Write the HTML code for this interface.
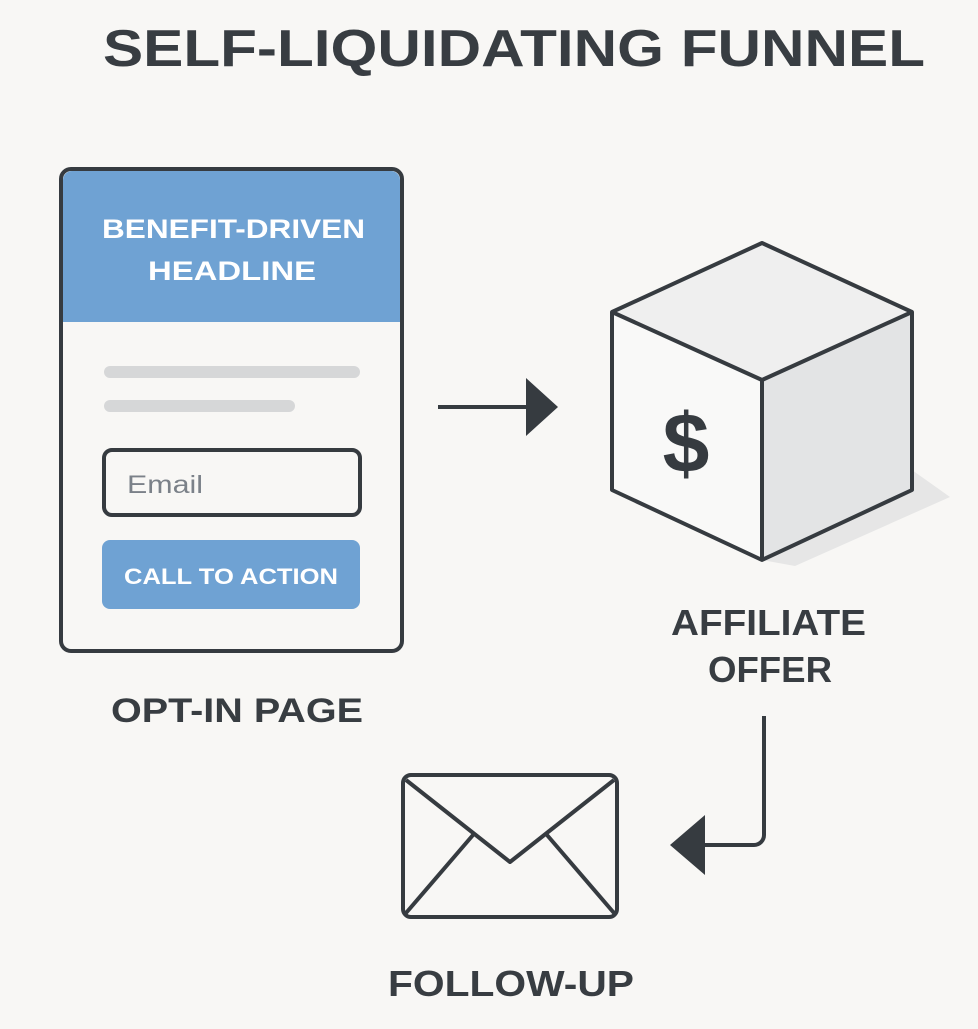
<!DOCTYPE html>
<html><head><style>
body{margin:0;background:#f8f7f5;}
svg text{font-family:"Liberation Sans",sans-serif;font-weight:bold;}
</style></head><body>
<svg width="978" height="1024" viewBox="0 0 978 1024" xmlns="http://www.w3.org/2000/svg">
<rect width="978" height="1024" fill="#f8f7f5"/>
<text x="103" y="66" font-size="52" fill="#383d42" textLength="822" lengthAdjust="spacingAndGlyphs">SELF-LIQUIDATING FUNNEL</text>
<!-- card -->
<rect x="61" y="169" width="341" height="482" rx="10" fill="#f8f7f5" stroke="#363b40" stroke-width="4"/>
<path d="M63 322 V180 a9 9 0 0 1 9 -9 H391 a9 9 0 0 1 9 9 V322 Z" fill="#6fa2d3"/>
<text x="102" y="238" font-size="27" fill="#fff" textLength="263" lengthAdjust="spacingAndGlyphs">BENEFIT-DRIVEN</text>
<text x="148" y="280" font-size="27" fill="#fff" textLength="168" lengthAdjust="spacingAndGlyphs">HEADLINE</text>
<rect x="104" y="366" width="256" height="12" rx="6" fill="#d6d7d8"/>
<rect x="104" y="400" width="191" height="12" rx="6" fill="#d6d7d8"/>
<rect x="104" y="450" width="256" height="65" rx="8" fill="#f8f7f5" stroke="#363b40" stroke-width="4"/>
<text x="127" y="493" font-size="25" fill="#7b8189" style="font-weight:normal" textLength="76" lengthAdjust="spacingAndGlyphs">Email</text>
<rect x="102" y="540" width="258" height="69" rx="8" fill="#6fa2d3"/>
<text x="124" y="584" font-size="22" fill="#fff" textLength="214" lengthAdjust="spacingAndGlyphs">CALL TO ACTION</text>
<text x="111" y="722" font-size="34" fill="#383d42" textLength="252" lengthAdjust="spacingAndGlyphs">OPT-IN PAGE</text>
<!-- arrow right -->
<line x1="438" y1="407" x2="530" y2="407" stroke="#363b40" stroke-width="4"/>
<polygon points="526,378 558,407 526,436" fill="#363b40"/>
<!-- cube -->
<polygon points="912,470 950,497 795,566 762,560" fill="#e6e6e6"/>
<polygon points="612,312 762,243 912,312 762,380" fill="#efefef"/>
<polygon points="612,312 762,380 762,560 612,490" fill="#f9f9f8"/>
<polygon points="762,380 912,312 912,490 762,560" fill="#e3e4e5"/>
<g fill="none" stroke="#363b40" stroke-width="4" stroke-linejoin="round">
<polygon points="612,312 762,243 912,312 912,490 762,560 612,490"/>
<polyline points="612,312 762,380 912,312"/>
<line x1="762" y1="380" x2="762" y2="560"/>
</g>
<text x="686" y="472" font-size="84" fill="#363b40" text-anchor="middle">$</text>
<text x="671" y="635" font-size="36" fill="#383d42" textLength="195" lengthAdjust="spacingAndGlyphs">AFFILIATE</text>
<text x="708" y="682" font-size="36" fill="#383d42" textLength="124" lengthAdjust="spacingAndGlyphs">OFFER</text>
<!-- down-left arrow -->
<path d="M764 716 V835 a10 10 0 0 1 -10 10 H700" fill="none" stroke="#363b40" stroke-width="4"/>
<polygon points="705,815 670,845 705,875" fill="#363b40"/>
<!-- envelope -->
<rect x="403" y="775" width="214" height="142" rx="8" fill="#f8f7f5" stroke="#363b40" stroke-width="4"/>
<g fill="none" stroke="#363b40" stroke-width="4" stroke-linejoin="round">
<polyline points="406,780 510,862 614,780"/>
<line x1="406" y1="913" x2="473" y2="835"/>
<line x1="614" y1="913" x2="547" y2="835"/>
</g>
<text x="388" y="996" font-size="36" fill="#383d42" textLength="246" lengthAdjust="spacingAndGlyphs">FOLLOW-UP</text>
</svg>
</body></html>
